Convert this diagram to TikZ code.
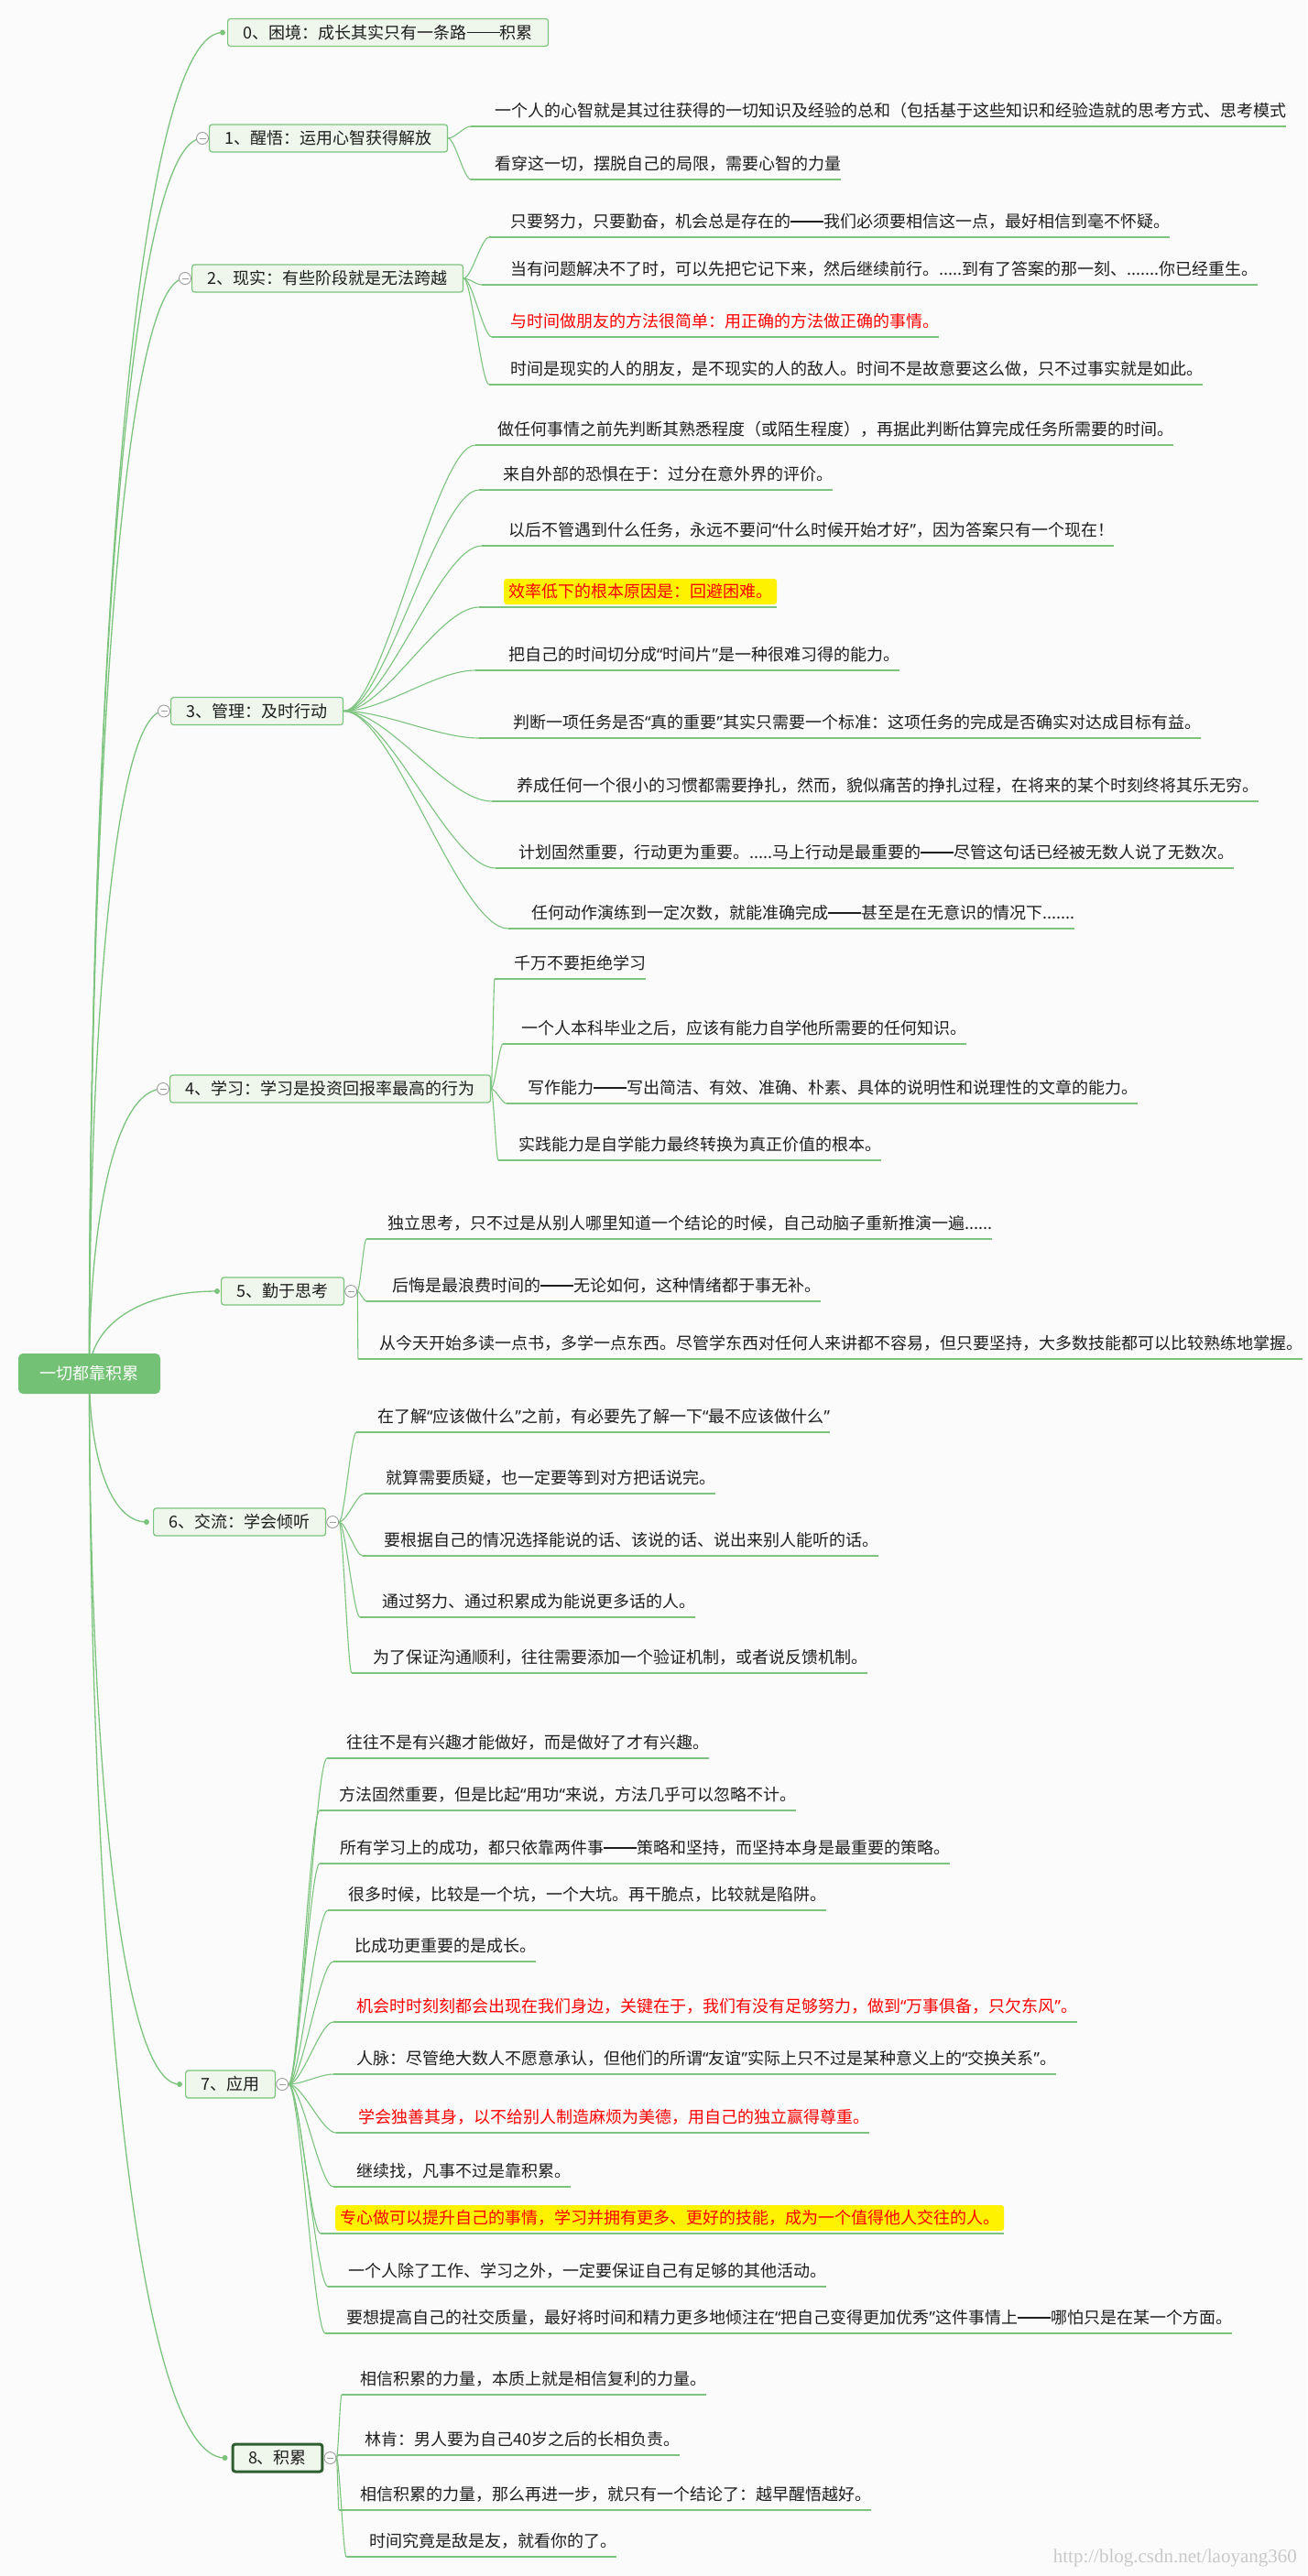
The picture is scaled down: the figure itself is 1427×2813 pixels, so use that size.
\documentclass[tikz,border=0pt]{standalone}
\usepackage{fontspec}
\setmainfont{Noto Sans CJK SC}
\newfontfamily\quotefont{Noto Sans}
\newfontfamily\markfont{Liberation Serif}
\usetikzlibrary{calc}
\pgfdeclarelayer{back}
\pgfsetlayers{back,main}

\definecolor{paper}{HTML}{FBFBFB}
\definecolor{linegreen}{HTML}{7CC47E}
\definecolor{rootgreen}{HTML}{73C174}
\definecolor{topicfill}{HTML}{EFF6EC}
\definecolor{darkrim}{HTML}{2F5E31}
\definecolor{knobgray}{HTML}{9B9B9B}
\definecolor{ink}{HTML}{1E1E1E}
\definecolor{markgray}{HTML}{C9C9C9}

\newcommand\bodyfont{\fontsize{18}{20}\selectfont}
\newcommand\oqm{{\quotefont “}}
\newcommand\cqm{{\quotefont ”}}
% solid double-width dash
\newcommand\dashbar{\rule[0.33em]{2em}{1.7pt}}

% main branch: leaves the hub vertically, enters the topic horizontally
\newcommand\trunklink[2]{%
  \draw[trunk] (#1) .. controls ($(#1)!0.54!(#1 |- #2)$) and ($(#2)!0.65!(#1 |- #2)$) .. (#2);}
% sub branch: S-curve to the start of the leaf's underline, then the underline
\newcommand\twiglink[3]{%
  \draw[twig] (#1) .. controls ($(#1)!0.3!(#2 |- #1)$) and ($(#2)!0.3!(#1 |- #2)$) .. (#2);
  \draw[rule] (#2) -- (#2 -| #3.east);}

\tikzset{
  trunk/.style={draw=linegreen, line width=1.3pt},
  twig/.style={draw=linegreen, line width=1.1pt},
  rule/.style={draw=linegreen, line width=2pt},
  topic/.style={draw=linegreen, fill=topicfill, line width=1.2pt, rounded corners=3pt,
    inner xsep=17pt, inner ysep=6pt, minimum height=30pt, text=ink, anchor=west,
    text height=15.8pt, text depth=2.2pt, font=\bodyfont},
  picked/.style={topic, draw=darkrim, line width=3pt},
  hub/.style={fill=rootgreen, rounded corners=5pt, text=white, minimum width=155pt,
    minimum height=44pt, inner sep=0pt, text height=15.8pt, text depth=2.2pt, font=\bodyfont},
  leaf/.style={anchor=west, inner sep=0pt, text=ink, text height=15.8pt, text depth=2.2pt, font=\bodyfont},
  alert/.style={leaf, text=red},
  flag/.style={leaf, text=red, fill=yellow, rounded corners=3pt, inner xsep=5pt, inner ysep=5pt},
  knob/.style={circle, draw=knobgray, fill=white, line width=0.9pt, minimum size=13pt, inner sep=0pt,
    path picture={\draw[knobgray, line width=0.9pt]
      ([xshift=-3.5pt]path picture bounding box.center) -- ([xshift=3.5pt]path picture bounding box.center);}},
  tip/.style={circle, fill=linegreen, minimum size=6pt, inner sep=0pt},
}

\begin{document}
\begin{tikzpicture}[x=1pt,y=-1pt]
\useasboundingbox (0,0) rectangle (1427,2813);

% ---------- hub and main topics ----------
\node[hub] (hub) at (97.5,1500) {一切都靠积累};

\node[topic] (n0) at (248,35.5) {0、困境：成长其实只有一条路\dashbar 积累};
\node[topic] (n1) at (228,151) {1、醒悟：运用心智获得解放};
\node[topic] (n2) at (209,304) {2、现实：有些阶段就是无法跨越};
\node[topic] (n3) at (186,776.5) {3、管理：及时行动};
\node[topic] (n4) at (185,1189) {4、学习：学习是投资回报率最高的行为};
\node[topic] (n5) at (241,1410) {5、勤于思考};
\node[topic] (n6) at (167,1662) {6、交流：学会倾听};
\node[topic] (n7) at (202,2276) {7、应用};
\node[picked] (n8) at (252.5,2684) {8、积累};

\node[tip] (t0) at ($(n0.west)+(-5,0)$) {};
\node[knob] (k1) at ($(n1.west)+(-7,0)$) {};
\node[knob] (k2) at ($(n2.west)+(-7,0)$) {};
\node[knob] (k3) at ($(n3.west)+(-7,0)$) {};
\node[knob] (k4) at ($(n4.west)+(-7,0)$) {};
\node[tip] (t5) at ($(n5.west)+(-4,0)$) {};
\node[tip] (t6) at ($(n6.west)+(-7,0)$) {};
\node[tip] (t7) at ($(n7.west)+(-6,0)$) {};
\node[tip] (t8) at ($(n8.west)+(-7,0)$) {};
\node[knob] (k5) at ($(n5.east)+(7,0)$) {};
\node[knob] (k6) at ($(n6.east)+(7,0)$) {};
\node[knob] (k7) at ($(n7.east)+(7,0)$) {};
\node[knob] (k8) at ($(n8.east)+(7,0)$) {};

% ---------- 1 ----------
\node[leaf] (c11) at (540,121) {一个人的心智就是其过往获得的一切知识及经验的总和（包括基于这些知识和经验造就的思考方式、思考模式};
\node[leaf] (c12) at (540,179) {看穿这一切，摆脱自己的局限，需要心智的力量};
\coordinate (c11s) at (514,138);
\coordinate (c12s) at (514,196);

% ---------- 2 ----------
\node[leaf] (c21) at (557,242) {只要努力，只要勤奋，机会总是存在的\dashbar 我们必须要相信这一点，最好相信到毫不怀疑。};
\node[leaf] (c22) at (557,294) {当有问题解决不了时，可以先把它记下来，然后继续前行。.....到有了答案的那一刻、.......你已经重生。};
\node[alert] (c23) at (557,351) {与时间做朋友的方法很简单：用正确的方法做正确的事情。};
\node[leaf] (c24) at (557,403) {时间是现实的人的朋友，是不现实的人的敌人。时间不是故意要这么做，只不过事实就是如此。};
\coordinate (c21s) at (534,259);
\coordinate (c22s) at (526,311);
\coordinate (c23s) at (537,368);
\coordinate (c24s) at (534,420);

% ---------- 3 ----------
\node[leaf] (c31) at (543,469) {做任何事情之前先判断其熟悉程度（或陌生程度），再据此判断估算完成任务所需要的时间。};
\node[leaf] (c32) at (549,518) {来自外部的恐惧在于：过分在意外界的评价。};
\node[leaf] (c33) at (555,579) {以后不管遇到什么任务，永远不要问\oqm 什么时候开始才好\cqm ，因为答案只有一个现在！};
\node[flag] (c34) at (550,646) {效率低下的根本原因是：回避困难。};
\node[leaf] (c35) at (555,715) {把自己的时间切分成\oqm 时间片\cqm 是一种很难习得的能力。};
\node[leaf] (c36) at (560,789) {判断一项任务是否\oqm 真的重要\cqm 其实只需要一个标准：这项任务的完成是否确实对达成目标有益。};
\node[leaf] (c37) at (564,858) {养成任何一个很小的习惯都需要挣扎，然而，貌似痛苦的挣扎过程，在将来的某个时刻终将其乐无穷。};
\node[leaf] (c38) at (566,931) {计划固然重要，行动更为重要。.....马上行动是最重要的\dashbar 尽管这句话已经被无数人说了无数次。};
\node[leaf] (c39) at (580,997) {任何动作演练到一定次数，就能准确完成\dashbar 甚至是在无意识的情况下.......};
\coordinate (c31s) at (519,486);
\coordinate (c32s) at (523,535);
\coordinate (c33s) at (526,596);
\coordinate (c34s) at (523,663);
\coordinate (c35s) at (519,732);
\coordinate (c36s) at (523,806);
\coordinate (c37s) at (537,875);
\coordinate (c38s) at (541,948);
\coordinate (c39s) at (555,1014);

% ---------- 4 ----------
\node[leaf] (c41) at (561,1052) {千万不要拒绝学习};
\node[leaf] (c42) at (569,1123) {一个人本科毕业之后，应该有能力自学他所需要的任何知识。};
\node[leaf] (c43) at (576,1188) {写作能力\dashbar 写出简洁、有效、准确、朴素、具体的说明性和说理性的文章的能力。};
\node[leaf] (c44) at (566,1250) {实践能力是自学能力最终转换为真正价值的根本。};
\coordinate (c41s) at (540,1069);
\coordinate (c42s) at (549,1140);
\coordinate (c43s) at (553,1205);
\coordinate (c44s) at (544,1267);

% ---------- 5 ----------
\node[leaf] (c51) at (423,1336) {独立思考，只不过是从别人哪里知道一个结论的时候，自己动脑子重新推演一遍......};
\node[leaf] (c52) at (428,1404) {后悔是最浪费时间的\dashbar 无论如何，这种情绪都于事无补。};
\node[leaf] (c53) at (414,1467) {从今天开始多读一点书，多学一点东西。尽管学东西对任何人来讲都不容易，但只要坚持，大多数技能都可以比较熟练地掌握。};
\coordinate (c51s) at (400,1353);
\coordinate (c52s) at (400,1421);
\coordinate (c53s) at (391,1484);

% ---------- 6 ----------
\node[leaf] (c61) at (412,1547) {在了解\oqm 应该做什么\cqm 之前，有必要先了解一下\oqm 最不应该做什么\cqm};
\node[leaf] (c62) at (421,1614) {就算需要质疑，也一定要等到对方把话说完。};
\node[leaf] (c63) at (419,1682) {要根据自己的情况选择能说的话、该说的话、说出来别人能听的话。};
\node[leaf] (c64) at (417,1749) {通过努力、通过积累成为能说更多话的人。};
\node[leaf] (c65) at (407,1810) {为了保证沟通顺利，往往需要添加一个验证机制，或者说反馈机制。};
\coordinate (c61s) at (389,1564);
\coordinate (c62s) at (398,1631);
\coordinate (c63s) at (396,1699);
\coordinate (c64s) at (393,1766);
\coordinate (c65s) at (384,1827);

% ---------- 7 ----------
\node[leaf] (c71) at (378,1903) {往往不是有兴趣才能做好，而是做好了才有兴趣。};
\node[leaf] (c72) at (370,1960) {方法固然重要，但是比起\oqm 用功\oqm 来说，方法几乎可以忽略不计。};
\node[leaf] (c73) at (371,2018) {所有学习上的成功，都只依靠两件事\dashbar 策略和坚持，而坚持本身是最重要的策略。};
\node[leaf] (c74) at (380,2069) {很多时候，比较是一个坑，一个大坑。再干脆点，比较就是陷阱。};
\node[leaf] (c75) at (387,2125) {比成功更重要的是成长。};
\node[alert] (c76) at (389,2191) {机会时时刻刻都会出现在我们身边，关键在于，我们有没有足够努力，做到\oqm 万事俱备，只欠东风\cqm 。};
\node[leaf] (c77) at (389,2248) {人脉：尽管绝大数人不愿意承认，但他们的所谓\oqm 友谊\cqm 实际上只不过是某种意义上的\oqm 交换关系\cqm 。};
\node[alert] (c78) at (391,2312) {学会独善其身，以不给别人制造麻烦为美德，用自己的独立赢得尊重。};
\node[leaf] (c79) at (389,2371) {继续找，凡事不过是靠积累。};
\node[flag] (c7a) at (366,2422) {专心做可以提升自己的事情，学习并拥有更多、更好的技能，成为一个值得他人交往的人。};
\node[leaf] (c7b) at (380,2480) {一个人除了工作、学习之外，一定要保证自己有足够的其他活动。};
\node[leaf] (c7c) at (378,2531) {要想提高自己的社交质量，最好将时间和精力更多地倾注在\oqm 把自己变得更加优秀\cqm 这件事情上\dashbar 哪怕只是在某一个方面。};
\coordinate (c71s) at (357,1920);
\coordinate (c72s) at (349,1977);
\coordinate (c73s) at (349,2035);
\coordinate (c74s) at (358,2086);
\coordinate (c75s) at (364,2142);
\coordinate (c76s) at (364,2208);
\coordinate (c77s) at (364,2265);
\coordinate (c78s) at (367,2329);
\coordinate (c79s) at (364,2388);
\coordinate (c7as) at (350,2439);
\coordinate (c7bs) at (358,2497);
\coordinate (c7cs) at (355,2548);

% ---------- 8 ----------
\node[leaf] (c81) at (393,2598) {相信积累的力量，本质上就是相信复利的力量。};
\node[leaf] (c82) at (398,2664) {林肯：男人要为自己40岁之后的长相负责。};
\node[leaf] (c83) at (393,2724) {相信积累的力量，那么再进一步，就只有一个结论了：越早醒悟越好。};
\node[leaf] (c84) at (403,2775) {时间究竟是敌是友，就看你的了。};
\coordinate (c81s) at (373,2615);
\coordinate (c82s) at (369,2681);
\coordinate (c83s) at (370,2741);
\coordinate (c84s) at (378,2792);

\node[font=\markfont\fontsize{21}{21}\selectfont, text=markgray, anchor=east, inner sep=0pt] (mark) at (1416,2793) {http://blog.csdn.net/laoyang360};

% ---------- connectors ----------
\begin{pgfonlayer}{back}
\fill[paper] (0,0) rectangle (1427,2813);
\trunklink{hub.center}{t0.center}
\trunklink{hub.center}{k1.center}
\trunklink{hub.center}{k2.center}
\trunklink{hub.center}{k3.center}
\trunklink{hub.center}{k4.center}
\trunklink{hub.center}{t5.center}
\trunklink{hub.center}{t6.center}
\trunklink{hub.center}{t7.center}
\trunklink{hub.center}{t8.center}

\twiglink{n1.east}{c11s}{c11}
\twiglink{n1.east}{c12s}{c12}

\twiglink{n2.east}{c21s}{c21}
\twiglink{n2.east}{c22s}{c22}
\twiglink{n2.east}{c23s}{c23}
\twiglink{n2.east}{c24s}{c24}

\twiglink{n3.east}{c31s}{c31}
\twiglink{n3.east}{c32s}{c32}
\twiglink{n3.east}{c33s}{c33}
\twiglink{n3.east}{c34s}{c34}
\twiglink{n3.east}{c35s}{c35}
\twiglink{n3.east}{c36s}{c36}
\twiglink{n3.east}{c37s}{c37}
\twiglink{n3.east}{c38s}{c38}
\twiglink{n3.east}{c39s}{c39}

\twiglink{n4.east}{c41s}{c41}
\twiglink{n4.east}{c42s}{c42}
\twiglink{n4.east}{c43s}{c43}
\twiglink{n4.east}{c44s}{c44}

\twiglink{k5.east}{c51s}{c51}
\twiglink{k5.east}{c52s}{c52}
\twiglink{k5.east}{c53s}{c53}

\twiglink{k6.east}{c61s}{c61}
\twiglink{k6.east}{c62s}{c62}
\twiglink{k6.east}{c63s}{c63}
\twiglink{k6.east}{c64s}{c64}
\twiglink{k6.east}{c65s}{c65}

\twiglink{k7.east}{c71s}{c71}
\twiglink{k7.east}{c72s}{c72}
\twiglink{k7.east}{c73s}{c73}
\twiglink{k7.east}{c74s}{c74}
\twiglink{k7.east}{c75s}{c75}
\twiglink{k7.east}{c76s}{c76}
\twiglink{k7.east}{c77s}{c77}
\twiglink{k7.east}{c78s}{c78}
\twiglink{k7.east}{c79s}{c79}
\twiglink{k7.east}{c7as}{c7a}
\twiglink{k7.east}{c7bs}{c7b}
\twiglink{k7.east}{c7cs}{c7c}

\twiglink{k8.east}{c81s}{c81}
\twiglink{k8.east}{c82s}{c82}
\twiglink{k8.east}{c83s}{c83}
\twiglink{k8.east}{c84s}{c84}
\end{pgfonlayer}
\end{tikzpicture}
\end{document}
